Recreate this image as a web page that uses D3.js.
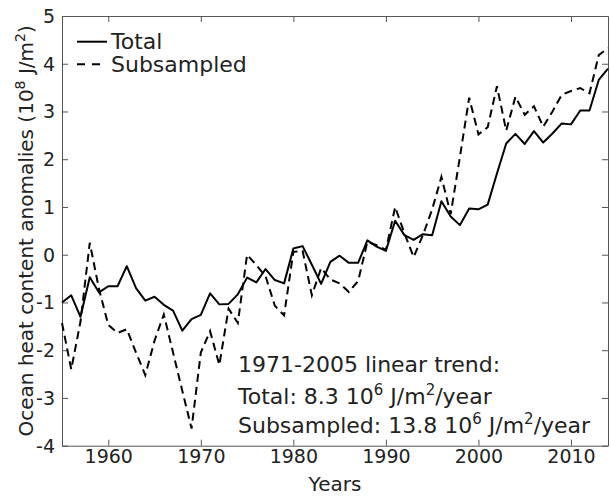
<!DOCTYPE html>
<html>
<head>
<meta charset="utf-8">
<script src="https://cdn.jsdelivr.net/npm/d3@7"></script>
<style>
  html, body { margin: 0; padding: 0; background: #fff; }
  svg { display: block; font-family: "DejaVu Sans", sans-serif; }
</style>
</head>
<body>
<svg id="chart" width="610" height="496"></svg>
<script>
const years = [1955,1956,1957,1958,1959,1960,1961,1962,1963,1964,
               1965,1966,1967,1968,1969,1970,1971,1972,1973,1974,
               1975,1976,1977,1978,1979,1980,1981,1982,1983,1984,
               1985,1986,1987,1988,1989,1990,1991,1992,1993,1994,
               1995,1996,1997,1998,1999,2000,2001,2002,2003,2004,
               2005,2006,2007,2008,2009,2010,2011,2012,2013,2014];

const totalValues = [-1.00,-0.85,-1.30,-0.47,-0.79,-0.66,-0.66,-0.24,-0.70,-0.96,
                     -0.88,-1.05,-1.17,-1.59,-1.35,-1.26,-0.81,-1.04,-1.03,-0.83,
                     -0.48,-0.58,-0.30,-0.53,-0.60, 0.13, 0.18,-0.21,-0.61,-0.15,
                     -0.02,-0.17,-0.17, 0.30, 0.17, 0.08, 0.71, 0.41, 0.31, 0.43,
                      0.41, 1.12, 0.80, 0.62, 0.97, 0.95, 1.05, 1.70, 2.33, 2.53,
                      2.32, 2.59, 2.35, 2.54, 2.75, 2.73, 3.02, 3.02, 3.66, 3.90];

const subsampledValues = [-1.43,-2.40,-1.40, 0.25,-0.72,-1.47,-1.64,-1.56,-2.05,-2.52,
                          -1.80,-1.25,-2.05,-2.85,-3.64,-2.05,-1.60,-2.31,-1.13,-1.43,
                           0.00,-0.22,-0.45,-1.07,-1.27, 0.06, 0.08,-0.85,-0.28,-0.52,
                          -0.60,-0.78,-0.55, 0.27, 0.20, 0.10, 1.00, 0.45,-0.05, 0.41,
                           0.95, 1.63, 0.85, 2.05, 3.29, 2.52, 2.67, 3.53, 2.60, 3.31,
                           2.93, 3.11, 2.68, 3.00, 3.35, 3.43, 3.49, 3.38, 4.18, 4.33];

const xTicks = [1960, 1970, 1980, 1990, 2000, 2010];
const yTicks = [-4, -3, -2, -1, 0, 1, 2, 3, 4, 5];
const seriesNames = ["Total", "Subsampled"];
const trendLines = ["1971-2005 linear trend:", "Total: 8.3", "Subsampled: 13.8"];

const svg = d3.select("#chart");
const L = 62, R = 608, T = 16, B = 445.7;
const ink = "#222";

const x = d3.scaleLinear().domain([1955, 2014]).range([L, R]);
const y = d3.scaleLinear().domain([-4, 5]).range([B, T]);

// axes
function styleAxis(g, dy) {
  g.selectAll("path.domain").attr("stroke", "#555").attr("stroke-width", 1);
  g.selectAll(".tick line").attr("stroke", "#555").attr("stroke-width", 1);
  g.selectAll(".tick text").attr("fill", ink).attr("font-size", 19)
    .attr("font-family", "DejaVu Sans, sans-serif").attr("dy", dy);
}
const plain = d => String(d);
svg.append("g").attr("transform", `translate(0,${B})`)
  .call(d3.axisBottom(x).tickValues(xTicks).tickFormat(plain)
        .tickSizeInner(-6).tickSizeOuter(0).tickPadding(4))
  .call(styleAxis, "0.71em");
svg.append("g").attr("transform", `translate(0,${T})`)
  .call(d3.axisTop(x).tickValues(xTicks).tickFormat("")
        .tickSizeInner(-6).tickSizeOuter(0))
  .call(styleAxis, "0");
svg.append("g").attr("transform", `translate(${L},0)`)
  .call(d3.axisLeft(y).tickValues(yTicks).tickFormat(plain)
        .tickSizeInner(-6).tickSizeOuter(0).tickPadding(7))
  .call(styleAxis, "0.34em");
svg.append("g").attr("transform", `translate(${R},0)`)
  .call(d3.axisRight(y).tickValues(yTicks).tickFormat("")
        .tickSizeInner(-6).tickSizeOuter(0))
  .call(styleAxis, "0");

// lines
const line = d3.line().x((d, i) => x(years[i])).y(d => y(d));
svg.append("path").datum(subsampledValues)
  .attr("d", line).attr("fill", "none").attr("stroke", "#000")
  .attr("stroke-width", 2).attr("stroke-dasharray", "8,5");
svg.append("path").datum(totalValues)
  .attr("d", line).attr("fill", "none").attr("stroke", "#000")
  .attr("stroke-width", 2).attr("stroke-linejoin", "round");

// legend
const leg = svg.append("g");
leg.append("line").attr("x1", 77).attr("x2", 107).attr("y1", 41.7).attr("y2", 41.7)
  .attr("stroke", "#000").attr("stroke-width", 2);
leg.append("line").attr("x1", 77).attr("x2", 100).attr("y1", 64.3).attr("y2", 64.3)
  .attr("stroke", "#000").attr("stroke-width", 2).attr("stroke-dasharray", "8,7");
leg.append("text").attr("x", 111).attr("y", 48.5).attr("font-size", 22).attr("fill", ink).text(seriesNames[0]);
leg.append("text").attr("x", 111).attr("y", 72).attr("font-size", 22).attr("fill", ink).text(seriesNames[1]);

// axis labels
svg.append("text").attr("x", (L + R) / 2).attr("y", 491).attr("text-anchor", "middle")
  .attr("font-size", 20).attr("fill", ink).text("Years");

const yl = svg.append("text").attr("transform", `translate(33,${(T + B) / 2}) rotate(-90)`)
  .attr("text-anchor", "middle").attr("font-size", 20).attr("fill", ink);
yl.append("tspan").text("Ocean heat content anomalies (10");
yl.append("tspan").attr("font-size", 14).attr("dy", -8).text("8");
yl.append("tspan").attr("dy", 8).text(" J/m");
yl.append("tspan").attr("font-size", 14).attr("dy", -8).text("2");
yl.append("tspan").attr("dy", 8).text(")");

// annotation
const ann = svg.append("g").attr("font-size", 22).attr("fill", ink);
ann.append("text").attr("x", 238).attr("y", 372).text(trendLines[0]);
function unitLine(yy, lead) {
  const t = ann.append("text").attr("x", 238).attr("y", yy);
  t.append("tspan").text(lead + " 10");
  t.append("tspan").attr("font-size", 15).attr("dy", -9).text("6");
  t.append("tspan").attr("dy", 9).text(" J/m");
  t.append("tspan").attr("font-size", 15).attr("dy", -9).text("2");
  t.append("tspan").attr("dy", 9).text("/year");
}
unitLine(404, trendLines[1]);
unitLine(433, trendLines[2]);
</script>
</body>
</html>
